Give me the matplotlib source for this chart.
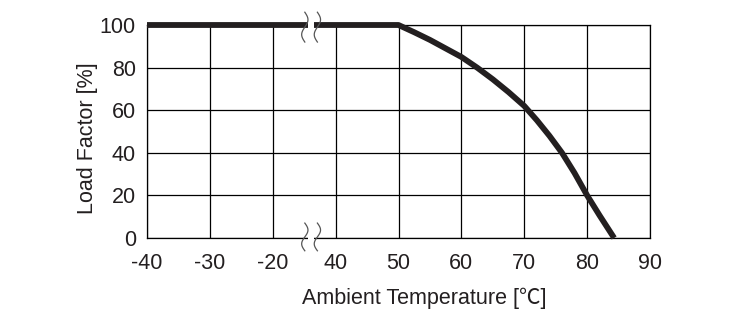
import numpy as np
import matplotlib
matplotlib.use('Agg')
import matplotlib.pyplot as plt
from matplotlib.patches import Rectangle

# ── data ────────────────────────────────────────────────────────────────────
temp_c   = [-40, 50, 52.5, 55, 57.5, 60, 62.5, 65, 67.5, 70,
            72, 74, 76, 78, 80, 82, 84.3]
load_pct = [100, 100, 96.6, 93, 89, 85, 80, 74.5, 68.5, 62,
            55.3, 48, 40, 30.5, 20, 10.5, 0]
tick_temps = [-40, -30, -20, 40, 50, 60, 70, 80, 90]
y_ticks    = [0, 20, 40, 60, 80, 100]

INK = '#231f20'
plt.rcParams['font.family'] = ['Liberation Sans', 'Noto Sans CJK JP', 'DejaVu Sans']


def to_pos(t):
    """Broken axis: -40..-20 and 40..90 each get 1 unit per 10 degC."""
    t = np.asarray(t, dtype=float)
    return np.where(t <= -20, (t + 40) / 10.0, 3 + (t - 40) / 10.0)


x_pos = to_pos(temp_c)

fig = plt.figure(figsize=(7.4, 3.22), dpi=100)
ax = fig.add_axes([147 / 740, 1 - 238 / 322, 503 / 740, 213 / 322])

ax.plot(x_pos, load_pct, color=INK, lw=4.2, solid_capstyle='butt',
        solid_joinstyle='round', zorder=4, clip_on=False)

ax.set_xlim(0, 8)
ax.set_ylim(0, 100)
ax.set_xticks(to_pos(tick_temps))
ax.set_xticklabels([str(t) for t in tick_temps])
ax.set_yticks(y_ticks)
ax.grid(True, color='black', lw=0.9)
ax.set_axisbelow(True)
for s in ax.spines.values():
    s.set_color('black')
    s.set_linewidth(0.9)
ax.tick_params(length=0, labelsize=15.5, colors=INK)
ax.tick_params(axis='x', pad=11)
ax.tick_params(axis='y', pad=8)

ax.set_ylabel('Load Factor [%]', fontsize=15.5, color=INK)
ax.yaxis.set_label_coords((98 - 147) / 503, (238 - 138) / 213)
ax.set_xlabel('Ambient Temperature [℃]', fontsize=15.5, color=INK)
ax.xaxis.set_label_coords((424 - 147) / 503, (238 - 298) / 213)
ax.xaxis.label.set_va('center')

# ── axis-break marks (top line and bottom axis) ─────────────────────────────
gap_lo, gap_hi = 2.56, 2.66
for yc, half in [(100, 4.5), (0, 2.5)]:
    ax.add_patch(Rectangle((gap_lo, yc - half), gap_hi - gap_lo, 2 * half,
                           facecolor='white', edgecolor='none', zorder=5,
                           clip_on=False))

s = np.linspace(0, 1, 40)
for x0 in [2.51, 2.71]:
    for y_top, y_bot in [(106, 92), (7, -6)]:
        wx = x0 + 0.05 * np.sin(2 * np.pi * s)
        wy = y_top + (y_bot - y_top) * s
        ax.plot(wx, wy, color='#555555', lw=0.9, zorder=6, clip_on=False)

fig.savefig('out.png', dpi=100)
